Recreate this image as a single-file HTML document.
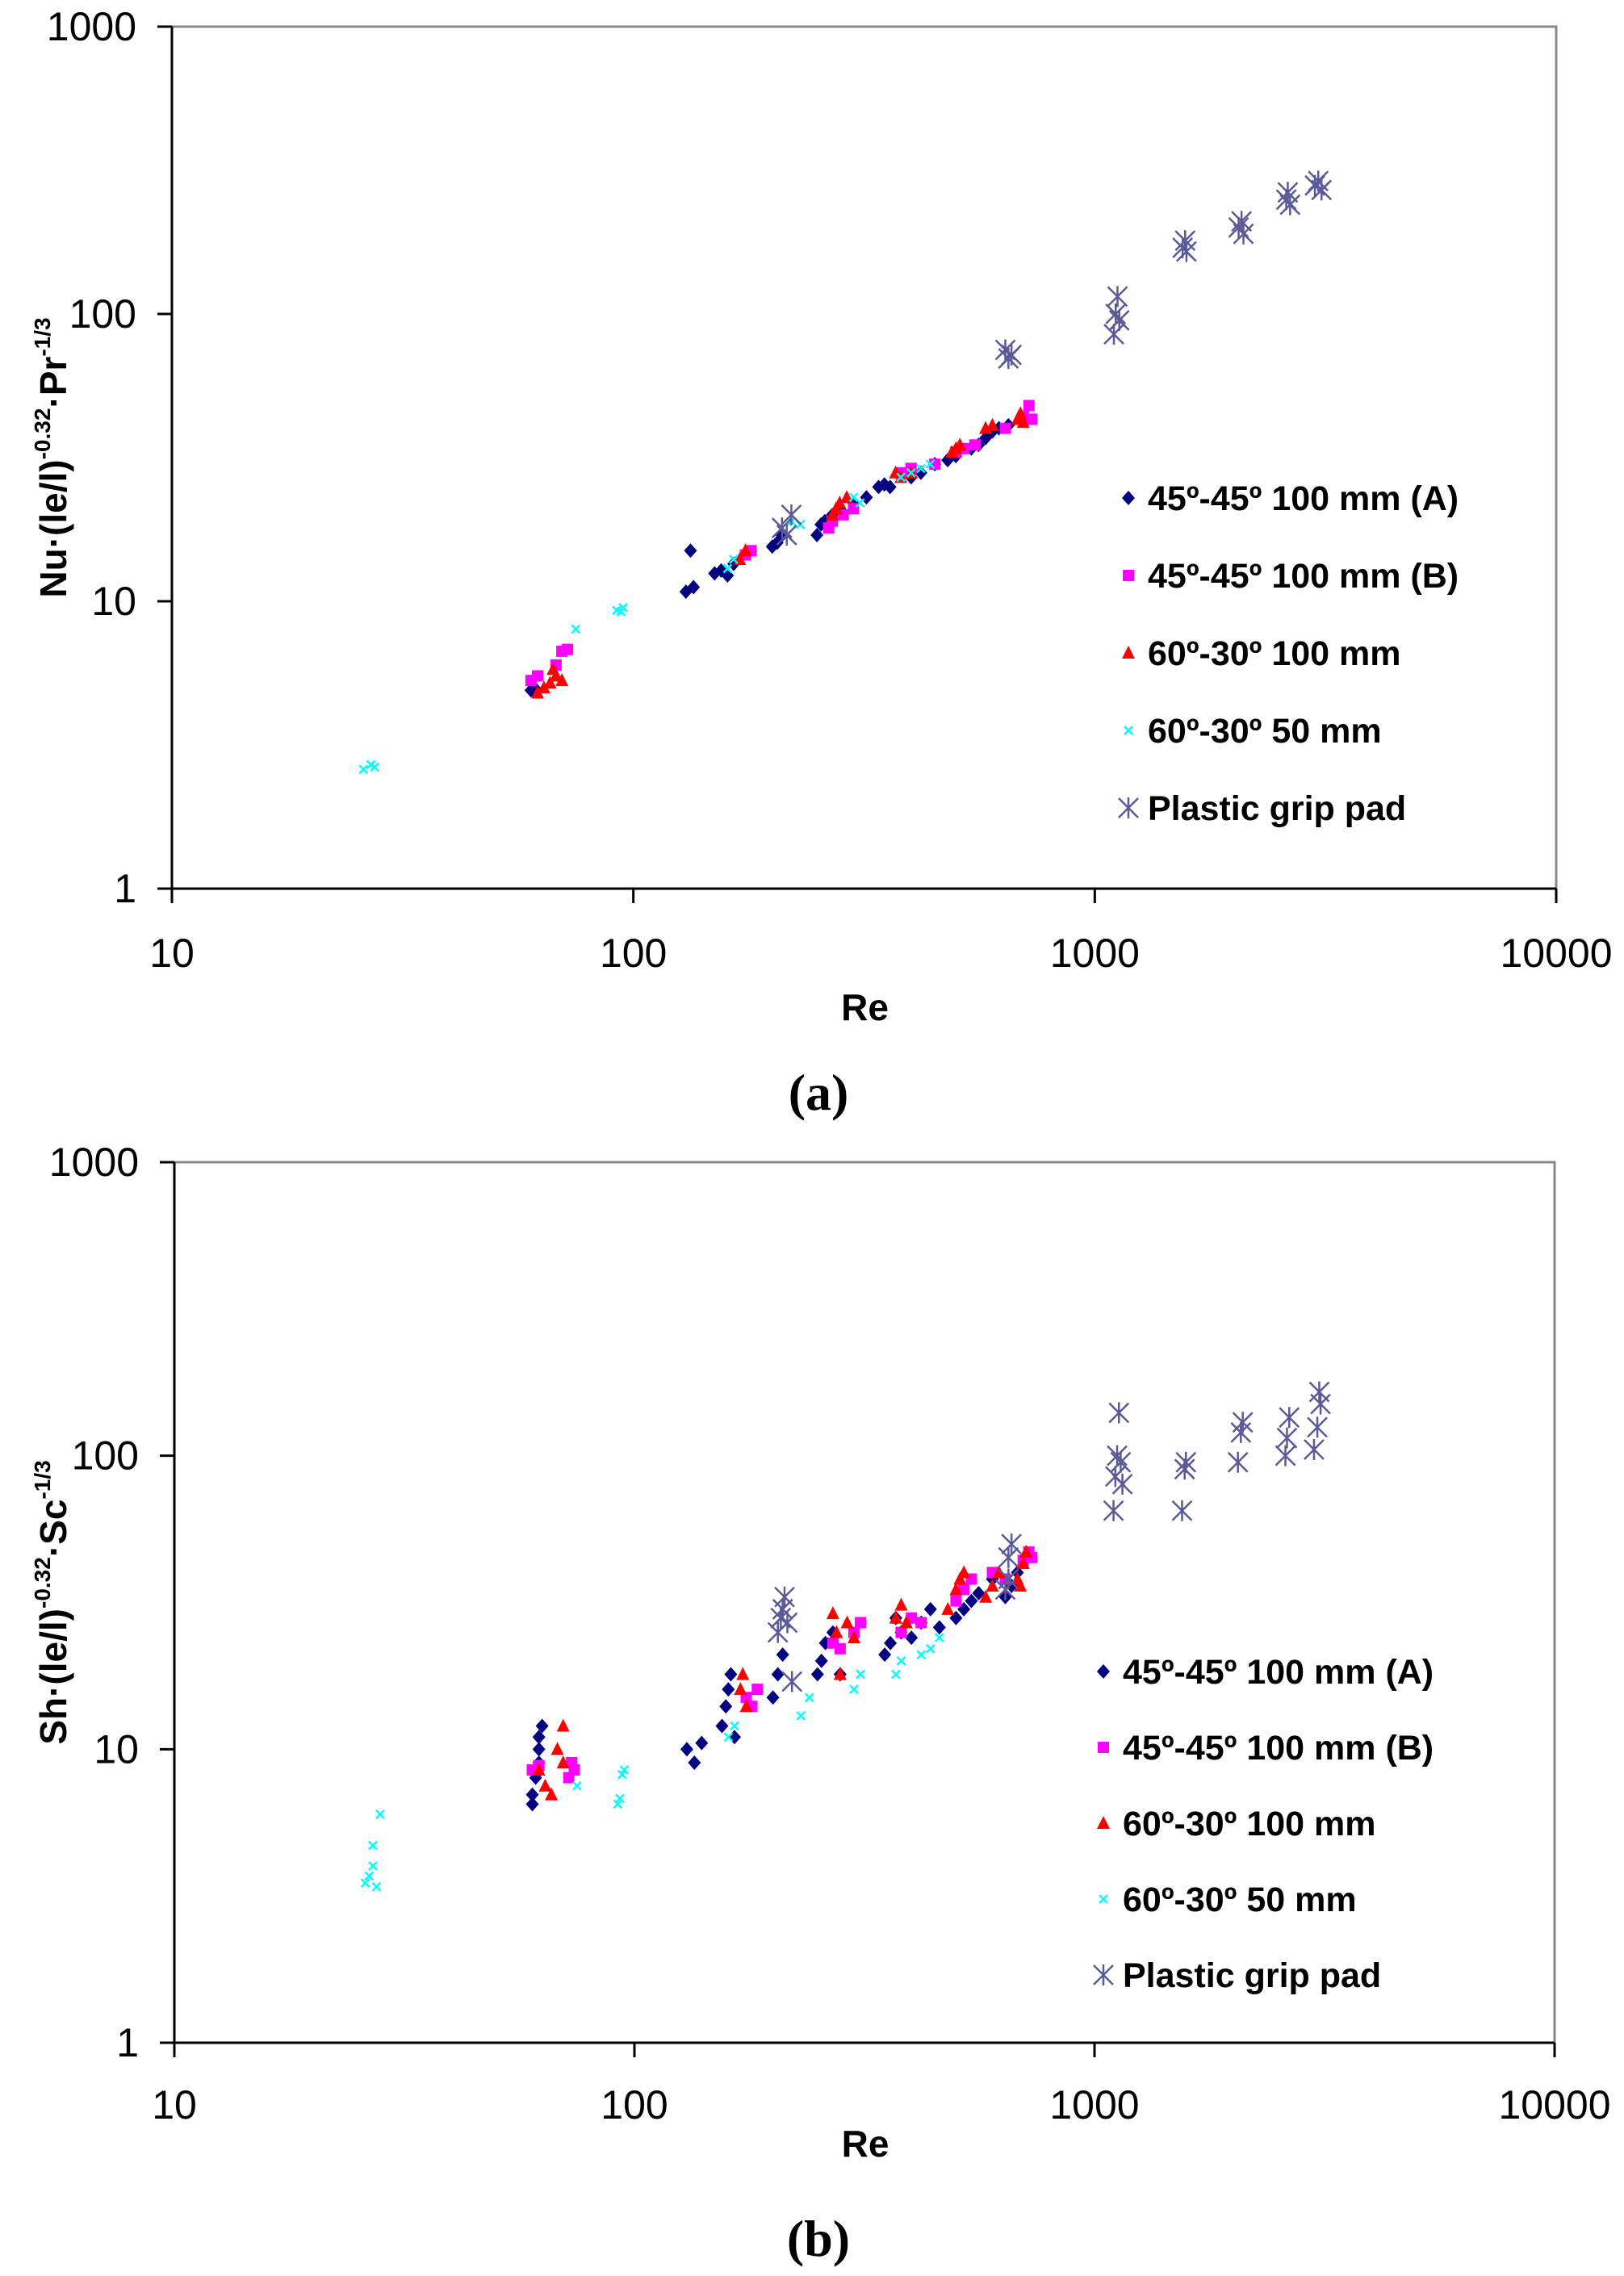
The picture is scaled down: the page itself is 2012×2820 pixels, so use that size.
<!DOCTYPE html>
<html><head><meta charset="utf-8"><style>
html,body{margin:0;padding:0;background:#fff;}
svg{display:block;}
.tk{font-family:"Liberation Sans",sans-serif;font-size:50px;fill:#000;}
.ti{font-family:"Liberation Sans",sans-serif;font-size:46px;font-weight:bold;fill:#000;}
.lg{font-family:"Liberation Sans",sans-serif;font-size:43px;font-weight:bold;fill:#000;}
.pl{font-family:"Liberation Serif",serif;font-size:64px;font-weight:bold;fill:#000;}
</style></head><body>
<svg id="fig" width="2012" height="2820" viewBox="0 0 2012 2820" xmlns="http://www.w3.org/2000/svg"></svg>
<script>
// ---- data: [Re, value] ----
const seriesNames = ["45º-45º 100 mm (A)","45º-45º 100 mm (B)","60º-30º 100 mm","60º-30º 50 mm","Plastic grip pad"];
const xTickLabels = ["10","100","1000","10000"];
const yTickLabels = ["1","10","100","1000"];
const topA = [[60,4.9],[61,5.0],[130,10.8],[135,11.2],[133,15],[150,12.5],[155,12.8],[160,12.3],[165,13.5],[200,15.5],[205,16],[210,17],[250,17],[255,18.5],[260,19],[270,20],[280,21],[300,22],[320,23],[340,25],[350,25.5],[360,25],[400,27],[420,28],[450,30],[480,31],[500,32],[540,34],[560,35],[580,37],[600,39],[620,40],[650,41]];
const topB = [[60,5.3],[62,5.5],[68,6],[70,6.7],[72,6.8],[175,14.5],[180,15],[265,18],[270,19],[285,20],[300,21],[380,28],[400,29],[450,30],[500,33],[520,34],[550,35],[640,40],[700,44],[720,48],[730,43]];
const topC = [[62,4.8],[64,5],[66,5.2],[68,5.5],[70,5.3],[67,5.8],[170,14],[175,15],[270,20],[275,21],[280,22],[290,23],[370,28],[380,27],[400,28],[490,33],[500,34],[510,35],[580,40],[600,41],[680,43],[690,45],[700,42]];
const topD = [[26,2.6],[27,2.7],[27.5,2.65],[75,8],[92,9.3],[95,9.5],[94,9.2],[160,13],[165,14],[220,19],[230,18.5],[300,23],[310,22],[380,27],[400,28],[420,29],[440,30]];
const topE = [[210,18],[215,17],[220,20],[640,75],[650,70],[660,72],[1100,85],[1110,100],[1120,115],[1130,95],[1550,170],[1570,180],[1580,165],[2050,200],[2080,210],[2100,190],[2600,250],[2620,265],[2650,240],[3000,280],[3050,290],[3100,270]];
const botA = [[60,6.5],[60,7],[61,8],[62,10],[62,11],[63,12],[62,9],[130,10],[135,9],[140,10.5],[155,12],[158,14],[160,16],[162,18],[165,11],[200,15],[205,18],[210,21],[250,18],[255,20],[260,23],[270,25],[280,18],[350,21],[360,23],[370,28],[380,25],[400,24],[420,27],[440,30],[460,26],[500,28],[520,30],[540,32],[560,34],[600,38],[640,33],[660,36],[680,40]];
const botB = [[60,8.5],[62,8.8],[72,8],[73,9],[74,8.5],[175,15],[180,14],[185,16],[270,23],[280,22],[300,25],[310,27],[380,25],[400,28],[420,27],[500,32],[520,35],[540,38],[600,40],[640,38],[700,44],[720,47],[730,45]];
const botC = [[62,8.5],[64,7.5],[66,7],[68,10],[70,12],[70,9],[170,16],[172,18],[175,14],[270,29],[275,25],[280,18],[290,27],[300,24],[370,28],[380,31],[390,27],[480,30],[500,35],[510,38],[520,40],[580,33],[600,36],[620,40],[680,38],[700,43],[710,47],[690,36]];
const botD = [[26,3.5],[26.5,3.7],[27,4],[27,4.7],[27.5,3.4],[28,6],[75,7.5],[92,6.5],[93,6.8],[95,8.5],[94,8.2],[160,11],[165,12],[230,13],[240,15],[300,16],[310,18],[370,18],[380,20],[420,21],[440,22],[460,24]];
const botE = [[205,25],[208,28],[210,30],[212,33],[215,27],[220,17],[640,35],[650,38],[660,50],[650,45],[1100,65],[1110,85],[1120,100],[1130,140],[1140,95],[1150,80],[1550,65],[1570,90],[1580,95],[2050,95],[2080,120],[2100,130],[2600,100],[2620,115],[2650,135],[3000,105],[3050,125],[3100,150],[3080,165]];

const NS="http://www.w3.org/2000/svg";
const svg=document.getElementById('fig');
function mk(tag,attrs,parent){const e=document.createElementNS(NS,tag);for(const k in attrs)e.setAttribute(k,attrs[k]);(parent||svg).appendChild(e);return e;}
const colors=["#000080","#ff00ff","#ff0000","#00ffff","#5a5a96"];
function marker(g,kind,cx,cy){
  let e;
  if(kind===0){e=mk('polygon',{points:`${cx},${cy-9} ${cx+8},${cy} ${cx},${cy+9} ${cx-8},${cy}`,fill:colors[0]},g);}
  else if(kind===1){e=mk('rect',{x:cx-7,y:cy-7,width:14,height:14,fill:colors[1]},g);}
  else if(kind===2){e=mk('polygon',{points:`${cx},${cy-9} ${cx+8},${cy+7} ${cx-8},${cy+7}`,fill:colors[2]},g);}
  else if(kind===3){e=mk('path',{d:`M${cx-5},${cy-5}L${cx+5},${cy+5}M${cx+5},${cy-5}L${cx-5},${cy+5}`,stroke:colors[3],'stroke-width':2.5,fill:'none'},g);}
  else {e=mk('path',{d:`M${cx-12},${cy-12}L${cx+12},${cy+12}M${cx+12},${cy-12}L${cx-12},${cy+12}M${cx},${cy-13}L${cx},${cy+13}`,stroke:colors[4],'stroke-width':2.5,fill:'none'},g);}
  return e;
}
function chart(opt){
  const {L,R,T,B,series,ytitle,legendX,legendY,legendGap,labelY,reY,tag,tagY,name}=opt;
  const g=mk('g',{});
  
  
  const xs=v=>L+(Math.log10(v)-1)/3*(R-L);
  const ys=v=>B-(Math.log10(v))/3*(B-T);
  // frame
  const fr=mk('path',{d:`M${L},${T}H${R}V${B}`,stroke:'#888',fill:'none','stroke-width':3},g);
  
  const ax=mk('path',{d:`M${L},${T}V${B}H${R}`,stroke:'#000',fill:'none','stroke-width':3},g);
  
  xTickLabels.forEach((lab,i)=>{
    const x=xs(Math.pow(10,i+1));
    mk('line',{x1:x,y1:B,x2:x,y2:B+18,stroke:'#000','stroke-width':3},g);
    const t=mk('text',{x:x,y:labelY,'text-anchor':'middle',class:'tk'},g);t.textContent=lab;
    
  });
  yTickLabels.forEach((lab,i)=>{
    const y=ys(Math.pow(10,i));
    mk('line',{x1:L-18,y1:y,x2:L,y2:y,stroke:'#000','stroke-width':3},g);
    const t=mk('text',{x:L-44,y:y+17,'text-anchor':'end',class:'tk'},g);t.textContent=lab;
    
  });
  const xt=mk('text',{x:(L+R)/2+1,y:reY,'text-anchor':'middle',class:'ti'},g);xt.textContent='Re';
  
  const yt=mk('text',{transform:`translate(82,${(T+B)/2}) rotate(-90)`,'text-anchor':'middle',class:'ti'},g);
  yt.innerHTML=ytitle;
  
  series.forEach((s,k)=>{
    const sg=mk('g',{},g);
    
    
    s.forEach(p=>{const m=marker(sg,k,xs(p[0]),ys(p[1]));
      
      });
  });
  seriesNames.forEach((n,k)=>{
    const y=legendY+k*legendGap;
    const lg=mk('g',{},g);
    
    
    marker(lg,k,legendX,y);
    const t=mk('text',{x:legendX+24,y:y+15,class:'lg'},lg);t.textContent=n;
  });
  const tt=mk('text',{x:1014,y:tagY,'text-anchor':'middle',class:'pl'},g);tt.textContent=tag;
  
}
chart({name:'chart-a',L:213,R:1928,T:33,B:1101,series:[topA,topB,topC,topD,topE],
  ytitle:'Nu·(le/l)<tspan dy="-20" font-size="28">-0.32</tspan><tspan dy="20">·Pr</tspan><tspan dy="-20" font-size="28">-1/3</tspan>',
  legendX:1398,legendY:617,legendGap:96,labelY:1198,reY:1264,tag:'(a)',tagY:1375});
chart({name:'chart-b',L:216,R:1926,T:1440,B:2531,series:[botA,botB,botC,botD,botE],
  ytitle:'Sh·(le/l)<tspan dy="-20" font-size="28">-0.32</tspan><tspan dy="20">·Sc</tspan><tspan dy="-20" font-size="28">-1/3</tspan>',
  legendX:1367,legendY:2071,legendGap:94,labelY:2625,reY:2672,tag:'(b)',tagY:2795});
</script>
</body></html>
